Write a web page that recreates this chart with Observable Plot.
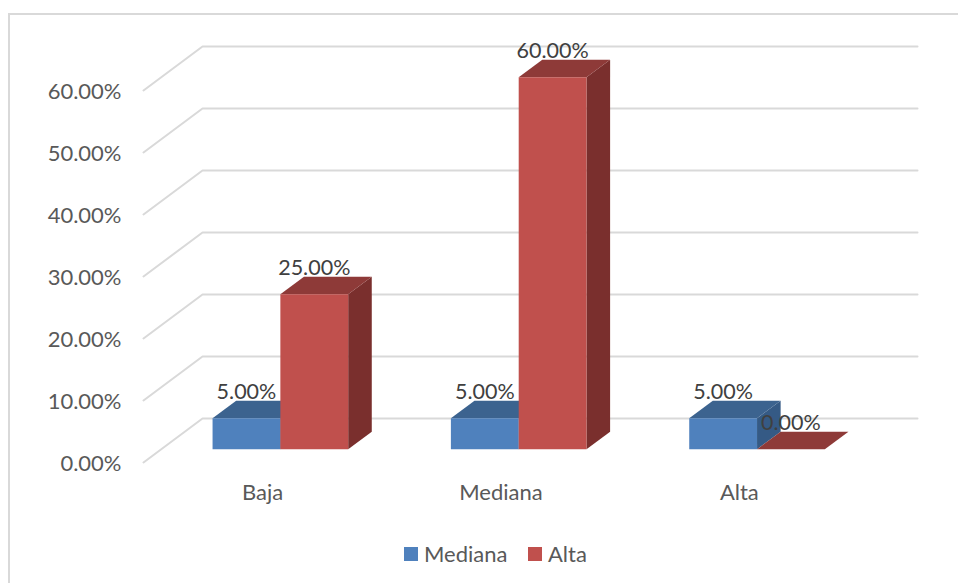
<!DOCTYPE html>
<html>
<head>
<meta charset="utf-8">
<script src="https://cdn.jsdelivr.net/npm/d3@7"></script>
<script src="https://cdn.jsdelivr.net/npm/@observablehq/plot@0.6"></script>
<style>
html,body{margin:0;padding:0;background:#fff;width:958px;height:583px;overflow:hidden}
#wrap{position:relative;width:958px;height:583px;font-family:Lato,sans-serif}
#frame{position:absolute;left:8px;top:13px;width:950px;height:570px;border-left:2px solid #d9d9d9;border-top:2px solid #d9d9d9;box-sizing:border-box}
#chart{position:absolute;left:0;top:0}
#legend{position:absolute;left:0;top:535px;width:958px;height:48px;font-size:22px;color:#595959}
#legend span{position:absolute;line-height:24px;top:7px}
#legend i{position:absolute;width:14px;height:14px;top:12px}
</style>
</head>
<body>
<div id="wrap"><div id="frame"></div><div id="chart"></div><div id="legend"></div></div>
<script>
const categories = ["Baja", "Mediana", "Alta"];
const mediana = [5, 5, 5];
const alta = [25, 60, 0];
const tickValues = [0, 10, 20, 30, 40, 50, 60];
const seriesNames = ["Mediana", "Alta"];
const palette = {
  Mediana: {front: "#4f81bd", top: "#3c638f", side: "#355a85"},
  Alta: {front: "#c0504d", top: "#8e3a38", side: "#7a2f2d"}
};

// oblique projection: depth z (0 = front of floor, 1 = back wall)
const pxPerCat = 238.33, pxPerPct = 6.2, depthX = 59, depthY = 44;
const X = (c, z) => c + z * depthX / pxPerCat;
const Y = (v, z) => v + z * depthY / pxPerPct;
const pt = (c, v, z) => ({x: X(c, z), y: Y(v, z)});

const gapEach = 0.2155, barW = 0.2845, z0 = 0.3, z1 = 0.7;

const grid = tickValues.map(v => [pt(0, v, 0), pt(0, v, 1), pt(3, v, 1)]);

const faces = [], labels = [];
categories.forEach((cat, i) => {
  [[mediana[i], "Mediana", 0], [alta[i], "Alta", 1]].forEach(([v, s, k]) => {
    const a = i + gapEach + k * barW, b = a + barW, col = palette[s];
    faces.push({color: col.side, pts: [pt(b, 0, z0), pt(b, 0, z1), pt(b, v, z1), pt(b, v, z0)]});
    faces.push({color: col.top, pts: [pt(a, v, z0), pt(b, v, z0), pt(b, v, z1), pt(a, v, z1)]});
    if (v > 0) faces.push({color: col.front, pts: [pt(a, 0, z0), pt(b, 0, z0), pt(b, v, z0), pt(a, v, z0)]});
    labels.push({...pt((a + b) / 2, v, z0), text: v.toFixed(2) + "%"});
  });
});

const xDomain = [0, X(3, 1)];
const yDomain = [0, Y(60, 1)];

const chart = Plot.plot({
  width: 958, height: 535,
  marginLeft: 143, marginRight: 41, marginTop: 46, marginBottom: 73,
  x: {domain: xDomain},
  y: {domain: yDomain},
  style: {fontFamily: "Lato, sans-serif", background: "transparent"},
  marks: [
    ...grid.map(g => Plot.line(g, {x: "x", y: "y", stroke: "#d9d9d9", strokeWidth: 2, curve: "linear"})),
    ...faces.map(f => Plot.line(f.pts, {x: "x", y: "y", fill: f.color, stroke: "none", curve: "linear-closed"})),
    Plot.text(labels, {x: "x", y: "y", text: "text", dy: -26, fontSize: 21.5, fill: "#404040"}),
    Plot.axisY({ticks: tickValues, tickFormat: d => d.toFixed(2) + "%", tickSize: 0, tickPadding: 22, fontSize: 22, color: "#595959", label: null, dy: 1}),
    Plot.axisX({ticks: categories.map((c, i) => i + 0.5), tickFormat: d => categories[Math.floor(d)], tickSize: 0, tickPadding: 22, fontSize: 22, color: "#595959", label: null})
  ]
});
document.getElementById("chart").appendChild(chart);

const legend = document.getElementById("legend");
const pos = [{sw: 404, tx: 424}, {sw: 528, tx: 548}];
seriesNames.forEach((s, i) => {
  const sw = document.createElement("i");
  sw.style.left = pos[i].sw + "px"; sw.style.background = palette[s].front;
  const t = document.createElement("span");
  t.style.left = pos[i].tx + "px"; t.textContent = s;
  legend.append(sw, t);
});
</script>
</body>
</html>
